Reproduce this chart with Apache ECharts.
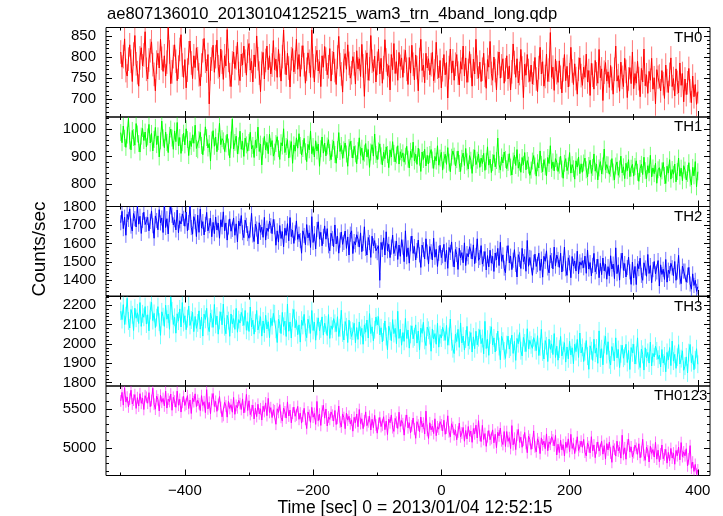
<!DOCTYPE html>
<html><head><meta charset="utf-8">
<script src="https://cdn.jsdelivr.net/npm/echarts@6/dist/echarts.min.js"></script>
<style>html,body{margin:0;padding:0;background:#fff}#c{width:723px;height:516px}</style>
</head><body><div id="c"></div>
<script>
const titleText = 'ae807136010_20130104125215_wam3_trn_4band_long.qdp';
const xName = 'Time [sec] 0 = 2013/01/04 12:52:15';
const yName = 'Counts/sec';
const panelNames = ['TH0', 'TH1', 'TH2', 'TH3', 'TH0123'];
const colors = ['#ff0000', '#00ff00', '#0000ff', '#00ffff', '#ff00ff'];
const tStart = -500, tStep = 2;
const errs = [28, 31, 41, 46, 75];
const xMin = -523, xMax = 419;
const xMajor = [-400, -200, 0, 200, 400];
const xMinor = [-500, -300, -100, 100, 300];
const yMins = [658, 718, 1315, 1783, 4648];
const yMaxs = [870, 1045, 1800, 2244, 5792];
const yMajor = [[700, 750, 800, 850], [800, 900, 1000], [1400, 1500, 1600, 1700, 1800], [1800, 1900, 2000, 2100, 2200], [5000, 5500]];
const yMinorStep = [10, 20, 20, 20, 100];

const th0 = [
812,776,801,843,768,755,795,829,790,742,807,851,784,763,731,798,822,779,805,860,
771,748,793,815,836,782,759,720,788,809,774,842,797,766,803,755,788,870,812,737,
765,801,829,790,744,776,818,853,781,752,794,727,769,810,838,786,749,803,775,822,
796,758,732,781,815,844,790,767,806,689,772,795,828,764,801,840,777,753,819,788,
747,803,779,865,792,758,730,786,812,773,798,835,761,744,807,781,826,790,757,814,
832,769,790,741,805,777,850,796,762,718,785,811,748,792,826,770,803,760,781,839,
770,795,752,818,780,743,801,864,787,758,809,774,729,796,820,765,788,842,771,806,
754,799,827,782,738,771,810,790,752,864,779,741,798,816,767,789,730,803,776,825,
795,758,777,820,743,786,812,768,735,800,849,782,760,717,791,808,771,829,785,750,
763,801,784,736,815,772,796,754,830,779,707,788,810,745,772,851,790,766,802,741,
785,819,760,797,738,775,841,793,756,780,722,806,770,832,761,789,745,811,778,798,
752,790,816,771,735,799,762,828,783,746,805,775,720,794,842,768,781,739,809,774,
796,758,782,811,744,767,835,776,751,792,727,770,806,758,787,703,775,819,762,791,
745,783,806,762,734,789,771,826,755,798,740,768,813,779,731,795,760,842,776,750,
788,742,771,809,757,726,794,776,837,761,745,800,768,722,785,812,750,779,796,738,
770,803,748,779,722,765,831,787,752,796,739,761,818,774,704,783,757,806,768,742,
781,736,762,799,748,718,775,823,760,789,731,754,807,742,769,858,752,776,721,795,
763,740,791,752,715,770,806,744,778,729,758,823,767,735,784,749,712,771,798,756,
733,776,752,807,741,768,709,785,757,724,792,760,738,818,751,772,697,764,787,743,
765,728,780,749,712,771,826,743,756,719,788,752,730,797,766,704,748,775,737,812,
725,761,738,790,749,706,773,741,819,732,758,714,766,745,797,724,751,689,770,752,
755,720,768,737,702,781,744,716,759,798,730,749,708,772,740,715,786,733,761,694,
748,711,739,773,720,692,755,706,735,688,718];
const th1 = [
988,951,1012,967,934,979,1040,958,925,996,970,942,1021,983,948,917,975,1003,959,990,
936,972,1018,950,985,921,963,1007,944,976,899,958,1030,969,933,990,952,915,978,1001,
968,927,994,955,1025,939,970,912,951,986,943,1002,963,904,958,937,980,949,1015,930,
925,962,989,941,907,953,1009,970,932,948,884,961,995,938,972,918,955,1022,944,966,
958,919,947,982,935,896,961,1037,928,952,975,910,940,993,927,956,901,968,943,920,
952,989,928,941,897,960,933,1008,919,946,870,938,974,925,952,911,982,936,959,902,
917,948,973,929,890,951,939,1002,915,937,962,895,928,955,876,943,920,969,931,984,
941,906,930,967,918,882,945,925,994,911,937,899,958,921,946,865,929,972,913,950,
903,939,962,915,889,931,957,908,876,926,988,919,941,894,925,950,910,865,933,956,
927,895,938,910,874,922,969,905,931,887,913,948,899,926,861,917,944,902,983,908,
889,921,947,903,870,916,893,936,908,860,925,899,955,912,881,906,940,873,918,896,
914,880,902,938,891,859,920,897,953,884,909,872,931,898,846,917,890,927,866,905,
873,908,926,888,857,901,884,940,869,895,916,851,887,909,872,933,880,845,898,921,
902,866,889,921,875,846,894,913,868,930,881,855,904,887,839,896,925,871,887,910,
861,895,875,912,850,883,936,869,891,842,878,907,863,886,968,872,851,899,877,917,
890,856,879,911,862,833,884,905,868,926,858,880,843,897,871,915,852,886,869,832,
851,884,904,866,829,878,859,921,872,845,889,863,830,897,875,940,857,881,848,893,
880,846,869,902,855,821,876,893,849,866,915,840,871,856,818,885,862,899,838,874,
843,877,895,852,826,868,887,839,861,910,847,873,815,859,882,837,866,928,851,871,
870,836,858,893,844,815,866,881,832,855,902,841,863,820,876,849,889,827,858,872,
829,864,885,843,810,857,872,835,898,849,820,867,841,905,826,859,838,876,803,852,
860,825,848,879,831,802,865,840,889,818,853,836,873,808,846,895,829,858,812,867,
851,815,839,878,822,797,861,830,882,790,845];
const th2 = [
1712,1774,1680,1742,1644,1757,1730,1787,1694,1667,1762,1734,1689,1807,1704,1747,1654,1725,1769,1702,
1704,1741,1668,1719,1776,1696,1628,1749,1724,1674,1783,1711,1738,1659,1826,1686,1734,1651,1756,1798,
1752,1700,1728,1673,1781,1658,1723,1705,1760,1736,1693,1770,1668,1713,1803,1686,1650,1745,1718,1637,
1753,1660,1786,1683,1718,1646,1703,1768,1668,1696,1736,1636,1714,1653,1743,1673,1710,1628,1728,1690,
1771,1668,1711,1618,1689,1733,1666,1676,1738,1644,1706,1608,1721,1694,1751,1658,1631,1726,1698,1653,
1628,1673,1763,1646,1610,1705,1678,1597,1712,1660,1688,1633,1741,1618,1683,1665,1720,1696,1653,1730,
1690,1590,1668,1607,1697,1627,1664,1582,1682,1644,1707,1614,1740,1637,1672,1600,1657,1722,1622,1650,
1615,1547,1668,1643,1593,1702,1630,1657,1578,1745,1605,1653,1570,1675,1717,1623,1660,1587,1638,1695,
1623,1680,1587,1560,1655,1627,1582,1700,1597,1640,1547,1618,1662,1595,1605,1667,1573,1635,1537,1650,
1668,1545,1610,1592,1647,1623,1580,1657,1555,1600,1690,1573,1537,1632,1605,1524,1639,1587,1615,1560,
1550,1587,1400,1605,1567,1630,1537,1663,1560,1595,1523,1580,1645,1545,1573,1613,1513,1591,1530,1620,
1580,1501,1668,1528,1576,1493,1598,1640,1546,1583,1510,1561,1618,1538,1470,1591,1566,1516,1625,1553,
1488,1583,1555,1510,1628,1525,1568,1475,1546,1590,1523,1533,1595,1501,1563,1465,1578,1551,1608,1515,
1472,1567,1540,1459,1574,1522,1550,1495,1603,1480,1545,1527,1582,1558,1515,1592,1490,1535,1625,1508,
1523,1588,1488,1516,1556,1456,1534,1473,1563,1493,1530,1448,1548,1510,1573,1480,1606,1503,1538,1466,
1441,1546,1588,1494,1531,1458,1509,1566,1486,1418,1539,1514,1464,1573,1501,1528,1449,1616,1476,1524,
1520,1427,1498,1542,1475,1485,1547,1453,1515,1417,1530,1503,1560,1467,1440,1535,1507,1462,1580,1477,
1537,1513,1470,1547,1445,1490,1580,1463,1427,1522,1495,1414,1529,1477,1505,1450,1558,1435,1500,1482,
1506,1468,1531,1438,1564,1461,1496,1424,1481,1546,1446,1474,1514,1414,1492,1431,1521,1451,1488,1406,
1474,1424,1533,1461,1488,1409,1576,1436,1484,1401,1506,1548,1454,1491,1418,1469,1526,1446,1378,1499,
1413,1475,1377,1490,1463,1520,1427,1400,1495,1467,1422,1540,1437,1480,1387,1458,1502,1435,1445,1507,
1369,1484,1432,1460,1405,1513,1390,1455,1437,1492,1468,1425,1502,1400,1445,1535,1418,1382,1477,1450,
1450,1390,1428,1470,1380,1352,1435,1372,1400,1340,1365];
const th3 = [
2168,2125,2202,2100,2145,2235,2118,2082,2177,2150,2069,2184,2132,2160,2105,2213,2090,2155,2137,2192,
2102,2150,2067,2172,2214,2120,2157,2084,2135,2192,2112,2044,2165,2140,2090,2199,2127,2154,2075,2242,
2170,2100,2137,2055,2155,2117,2180,2087,2213,2110,2145,2073,2130,2195,2095,2123,2163,2063,2141,2080,
2108,2170,2076,2138,2040,2153,2126,2183,2090,2063,2158,2130,2085,2203,2100,2143,2050,2121,2165,2098,
2205,2088,2052,2147,2120,2039,2154,2102,2130,2075,2183,2060,2125,2107,2162,2138,2095,2172,2070,2115,
2064,2190,2087,2122,2050,2107,2172,2072,2100,2140,2040,2118,2057,2147,2077,2114,2032,2132,2094,2157,
2155,2075,2007,2128,2103,2053,2162,2090,2117,2038,2205,2065,2113,2030,2135,2177,2083,2120,2047,2098,
2009,2122,2095,2152,2059,2032,2127,2099,2054,2172,2069,2112,2019,2090,2134,2067,2077,2139,2045,2107,
2098,2043,2151,2028,2093,2075,2130,2106,2063,2140,2038,2083,2173,2056,2020,2115,2088,2007,2122,2070,
2038,2066,2106,2006,2084,2023,2113,2043,2080,1998,2098,2060,2123,2030,2156,2053,2088,2016,2073,2138,
2098,2140,2046,2083,2010,2061,2118,2038,1970,2091,2066,2016,2125,2053,2080,2001,2168,2028,2076,1993,
2058,2013,2131,2028,2071,1978,2049,2093,2026,2036,2098,2004,2066,1968,2081,2054,2111,2018,1991,2086,
2070,2043,1962,2077,2025,2053,1998,2106,1983,2048,2030,2085,2061,2018,2095,1993,2038,2128,2011,1975,
1950,2050,2012,2075,1982,2108,2005,2040,1968,2025,2090,1990,2018,2058,1958,2036,1975,2065,1995,2032,
2073,2001,2028,1949,2116,1976,2024,1941,2046,2088,1994,2031,1958,2009,2066,1986,1918,2039,2014,1964,
1925,1996,2040,1973,1983,2045,1951,2013,1915,2028,2001,2058,1965,1938,2033,2005,1960,2078,1975,2018,
1995,1977,2032,2008,1965,2042,1940,1985,2075,1958,1922,2017,1990,1909,2024,1972,2000,1945,2053,1930,
1988,1916,1973,2038,1938,1966,2006,1906,1984,1923,2013,1943,1980,1898,1998,1960,2023,1930,2056,1953,
1982,1909,1960,2017,1937,1869,1990,1965,1915,2024,1952,1979,1900,2067,1927,1975,1892,1997,2039,1945,
2011,1918,1891,1986,1958,1913,2031,1928,1971,1878,1949,1993,1926,1936,1998,1904,1966,1868,1981,1954,
1998,1896,1941,2031,1914,1878,1973,1946,1865,1980,1928,1956,1901,2009,1886,1951,1933,1988,1964,1921,
1942,1881,1971,1901,1938,1856,1956,1918,1981,1888,2014,1911,1946,1874,1931,1996,1896,1924,1964,1864,
1885,1933,1850,1955,1997,1903,1940,1867,1918,1975,1895];
const th0123 = [
5601,5711,5548,5769,5589,5650,5524,5624,5738,5562,5611,5682,5506,5643,5536,5694,5571,5636,5492,5668,
5647,5572,5707,5528,5607,5764,5559,5496,5663,5616,5474,5675,5584,5633,5537,5726,5510,5624,5593,5689,
5482,5648,5599,5520,5727,5546,5622,5459,5583,5660,5543,5560,5669,5504,5613,5441,5639,5592,5692,5529,
5610,5566,5478,5669,5543,5591,5452,5745,5499,5584,5438,5622,5696,5531,5596,5468,5557,5657,5517,5398,
5416,5583,5536,5394,5595,5504,5553,5457,5646,5430,5544,5513,5609,5567,5492,5627,5448,5527,5684,5479,
5603,5427,5476,5547,5371,5508,5401,5559,5436,5501,5357,5533,5466,5576,5413,5634,5454,5515,5389,5489,
5475,5303,5501,5454,5554,5391,5344,5510,5461,5382,5589,5408,5484,5321,5445,5522,5405,5422,5531,5366,
5446,5318,5407,5507,5367,5248,5460,5416,5328,5519,5393,5441,5302,5595,5349,5434,5288,5472,5546,5381,
5498,5282,5396,5365,5461,5419,5344,5479,5300,5379,5536,5331,5268,5435,5388,5246,5447,5356,5405,5309,
5359,5215,5391,5324,5434,5271,5492,5312,5373,5247,5347,5461,5285,5334,5405,5229,5366,5259,5417,5294,
5189,5313,5390,5273,5290,5399,5234,5343,5171,5369,5322,5422,5259,5212,5378,5329,5250,5457,5276,5352,
5310,5164,5348,5422,5257,5322,5194,5283,5383,5243,5124,5336,5292,5204,5395,5269,5317,5178,5471,5225,
5121,5322,5231,5280,5184,5373,5157,5271,5240,5336,5294,5219,5354,5175,5254,5411,5206,5143,5310,5263,
5169,5230,5104,5204,5318,5142,5191,5262,5086,5223,5116,5274,5151,5216,5072,5248,5181,5291,5128,5349,
5161,5082,5289,5108,5184,5021,5145,5222,5105,5122,5231,5066,5175,5003,5201,5154,5254,5091,5044,5210,
5019,5210,5084,5132,4993,5286,5040,5125,4979,5163,5237,5072,5137,5009,5098,5198,5058,4939,5151,5107,
4982,5061,5218,5013,4950,5117,5070,4928,5129,5038,5087,4991,5180,4964,5078,5047,5143,5101,5026,5161,
4911,5048,4941,5099,4976,5041,4897,5073,5006,5116,4953,5174,4994,5055,4929,5029,5143,4967,5016,5087,
5009,5109,4946,4899,5065,5016,4937,5144,4963,5039,4876,5000,5077,4960,4977,5086,4921,5030,4858,5056,
4975,5075,4935,4816,5028,4984,4896,5087,4961,5009,4870,5163,4917,5002,4856,5040,5114,4949,5014,4886,
4940,5036,4994,4919,5054,4875,4954,5111,4906,4843,5010,4963,4821,5022,4931,4980,4884,5073,4857,4971,
4824,4924,5038,4862,4911,4982,4806,4943,4836,4994,4871,4936,4792,4968,4901,5011,4848,5069,4889,4950,
4900,4990,4770,4860,5030,4740,4820,4700,4790,4665,4720];
const seriesValues = [th0, th1, th2, th3, th0123];

const gridTops = [27.5, 117, 206.5, 296.5, 386];
const gridH = 89.5;
const labelX = [674, 674, 674, 674, 654];
const FONT = '"Liberation Sans", Arial, Helvetica, sans-serif';

function minorVals(min, max, step, majors) {
  const out = [];
  for (let v = Math.ceil(min / step) * step; v <= max; v += step) {
    if (majors.indexOf(v) < 0) out.push(v);
  }
  return out;
}
const minusFmt = v => String(v).replace('-', '\u2212');
const plainFmt = v => String(v);

const grids = [], xAxes = [], yAxes = [], series = [], graphics = [];
for (let g = 0; g < 5; g++) {
  grids.push({left: 106, right: 13, top: gridTops[g], height: gridH, show: true, borderColor: '#000', borderWidth: 1, backgroundColor: 'transparent'});
  const xBase = {gridIndex: g, type: 'value', min: xMin, max: xMax, splitLine: {show: false}, axisLine: {show: false, onZero: false}};
  [['bottom', true], ['top', false]].forEach(([pos, lab]) => {
    xAxes.push(Object.assign({}, xBase, {position: pos,
      axisTick: {show: true, inside: true, length: 6, customValues: xMajor, lineStyle: {color: '#000', width: 1}},
      axisLabel: {show: lab && g === 4, customValues: xMajor, formatter: minusFmt, fontSize: 15, color: '#000', fontFamily: FONT, margin: 8}}));
    xAxes.push(Object.assign({}, xBase, {position: pos,
      axisTick: {show: true, inside: true, length: 3, customValues: xMinor, lineStyle: {color: '#000', width: 1}},
      axisLabel: {show: false}}));
  });
  const yBase = {gridIndex: g, type: 'value', min: yMins[g], max: yMaxs[g], splitLine: {show: false}, axisLine: {show: false, onZero: false}};
  const ymin = minorVals(yMins[g], yMaxs[g], yMinorStep[g], yMajor[g]);
  [['left', true], ['right', false]].forEach(([pos, lab]) => {
    yAxes.push(Object.assign({}, yBase, {position: pos,
      axisTick: {show: true, inside: true, length: 6, customValues: yMajor[g], lineStyle: {color: '#000', width: 1}},
      axisLabel: {show: lab, customValues: yMajor[g], formatter: plainFmt, fontSize: 15, color: '#000', fontFamily: FONT, margin: 10}}));
    yAxes.push(Object.assign({}, yBase, {position: pos,
      axisTick: {show: true, inside: true, length: 3, customValues: ymin, lineStyle: {color: '#000', width: 1}},
      axisLabel: {show: false}}));
  });
  const vals = seriesValues[g];
  const pts = vals.map((v, i) => [tStart + i * tStep, v]);
  const errPts = vals.map((v, i) => [tStart + i * tStep, v, errs[g]]);
  const col = colors[g];
  series.push({
    type: 'custom', xAxisIndex: g * 4, yAxisIndex: g * 4, data: errPts, clip: true, silent: true,
    renderItem: function (params, api) {
      const x = api.value(0), y = api.value(1), e = api.value(2);
      const p1 = api.coord([x, y - e]), p2 = api.coord([x, y + e]);
      return {type: 'line', shape: {x1: p1[0], y1: p1[1], x2: p2[0], y2: p2[1]}, style: {stroke: col, lineWidth: 1, opacity: 0.55}};
    }
  });
  series.push({type: 'line', xAxisIndex: g * 4, yAxisIndex: g * 4, data: pts, showSymbol: false, symbol: 'none',
    lineStyle: {color: col, width: 1}, animation: false, silent: true, clip: true});
  graphics.push({type: 'text', x: labelX[g], y: gridTops[g] + 10, style: {text: panelNames[g], font: '15px ' + FONT, fill: '#000', textAlign: 'left', textVerticalAlign: 'middle'}});
}
graphics.push({type: 'text', x: 107, y: 14, style: {text: titleText, font: '16.6px ' + FONT, fill: '#000', textAlign: 'left', textVerticalAlign: 'middle'}});
graphics.push({type: 'text', x: 415, y: 508, style: {text: xName, font: '17.5px ' + FONT, fill: '#000', textAlign: 'center', textVerticalAlign: 'middle'}});
graphics.push({type: 'text', x: 39.5, y: 249, rotation: Math.PI / 2, style: {text: yName, font: '19px ' + FONT, fill: '#000', textAlign: 'center', textVerticalAlign: 'middle'}});

const chart = echarts.init(document.getElementById('c'), null, {renderer: 'canvas'});
chart.setOption({
  animation: false,
  backgroundColor: '#fff',
  grid: grids,
  xAxis: xAxes,
  yAxis: yAxes,
  series: series,
  graphic: graphics
});
</script>
</body></html>
